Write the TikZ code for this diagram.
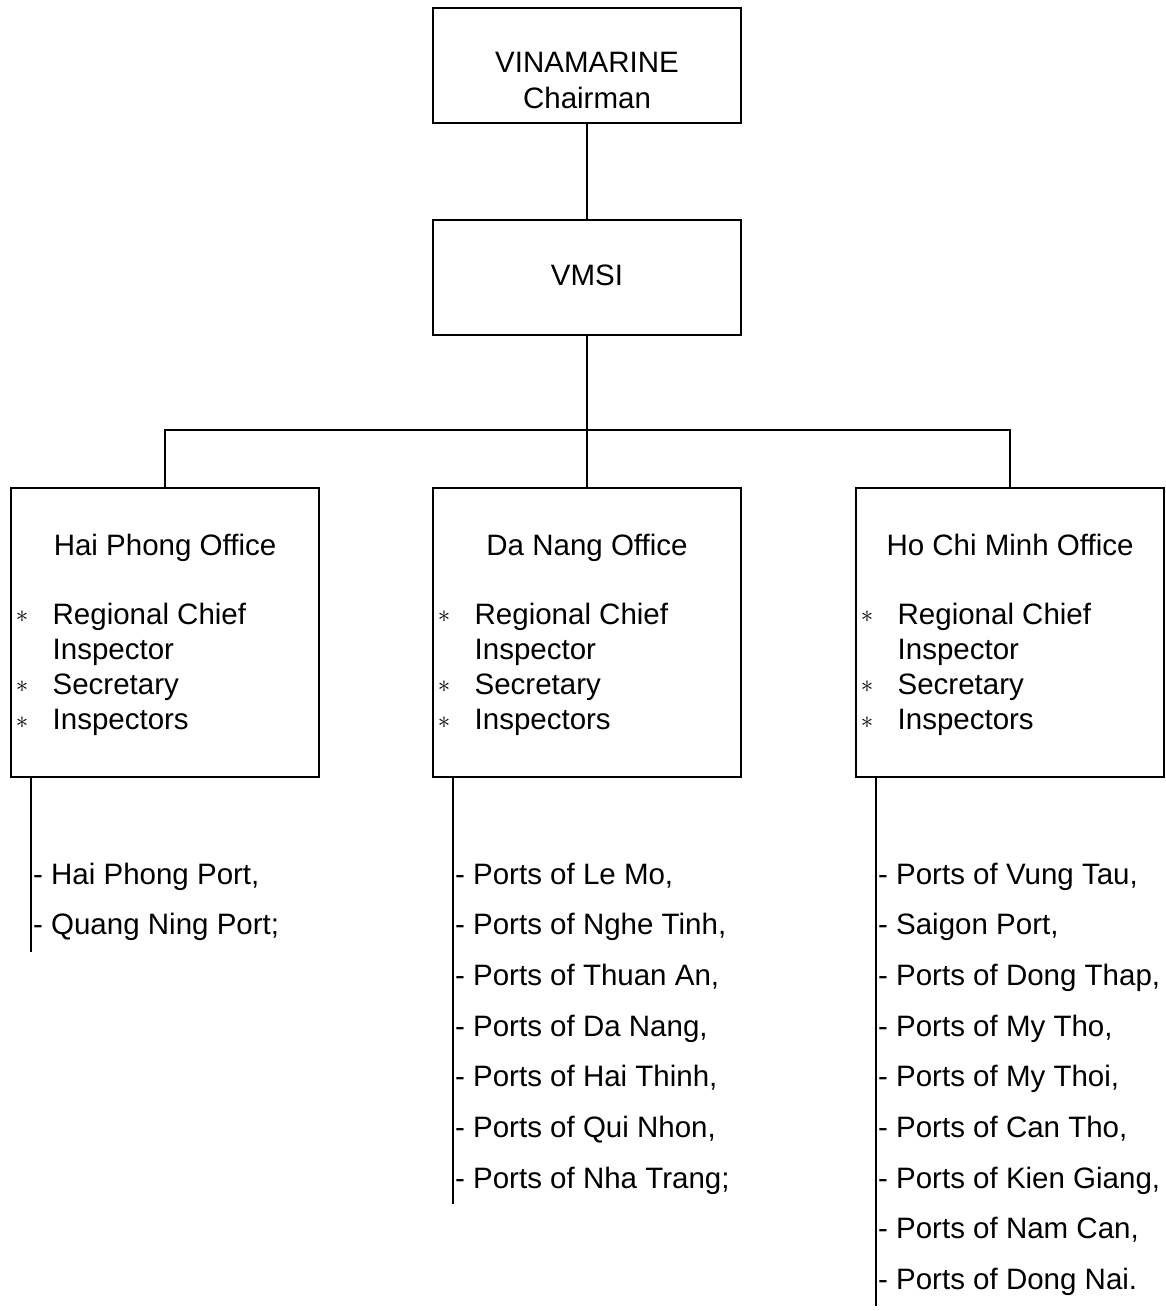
\documentclass[tikz,border=0pt]{standalone}
\usepackage{fontspec}
\setmainfont{Liberation Sans}
\newcommand\fsz{\fontsize{29.5}{35.4}\selectfont}
\begin{document}
\begin{tikzpicture}[x=1pt,y=-1pt,line width=1.3pt,
  box/.style={draw,line width=1.3pt,minimum width=308pt,inner sep=0pt,outer sep=0pt},
  txt/.style={inner sep=0pt,anchor=base west,font=\fsz},
  ctxt/.style={inner sep=0pt,anchor=base,font=\fsz},
  astk/.style={inner sep=0pt,anchor=center,font=\fontsize{25}{25}\selectfont}]
\useasboundingbox (0,0) rectangle (1165,1311);
% top boxes
\node[box,minimum height=115pt] (chair) at (587,65.5) {};
\node[ctxt] (chair-t1) at (587,73) {VINAMARINE};
\node[ctxt] (chair-t2) at (587,109) {Chairman};
\node[box,minimum height=115pt] (vmsi) at (587,277.5) {};
\node[ctxt] (vmsi-t) at (587,285) {VMSI};
% office boxes
\foreach \nm/\cx/\title in {hp/165/Hai Phong Office,dn/587/Da Nang Office,hcm/1010/Ho Chi Minh Office}{
  \node[box,minimum height=289pt] (\nm) at (\cx,632.5) {};
  \node[ctxt] (\nm-title) at (\cx,555) {\title};
  \node[txt] (\nm-r1) at (\cx-113,624) {Regional Chief};
  \node[txt] (\nm-r2) at (\cx-113,659.3) {Inspector};
  \node[txt] (\nm-r3) at (\cx-113,694.6) {Secretary};
  \node[txt] (\nm-r4) at (\cx-113,729.9) {Inspectors};
  \node[astk] (\nm-a1) at (\cx-143,616.5) {$\ast$};
  \node[astk] (\nm-a3) at (\cx-143,687) {$\ast$};
  \node[astk] (\nm-a4) at (\cx-143,722.3) {$\ast$};
}
% connectors
\coordinate (junc) at (587,430);
\draw (chair.south) -- (vmsi.north);
\draw (vmsi.south) -- (junc);
\draw (hp.north) |- (junc) -| (hcm.north);
\draw (junc) -- (dn.north);
% list lines
\coordinate (hp-end) at (31,952);
\coordinate (dn-end) at (453,1204);
\coordinate (hcm-end) at (876,1306);
\draw (hp.south -| hp-end) -- (hp-end);
\draw (dn.south -| dn-end) -- (dn-end);
\draw (hcm.south -| hcm-end) -- (hcm-end);
% lists
\foreach \t [count=\i from 0] in {{- Hai Phong Port,},{- Quang Ning Port;}}
  \node[txt] (hp-l\i) at (32.5,884+50.7*\i) {\t};
\foreach \t [count=\i from 0] in {{- Ports of Le Mo,},{- Ports of Nghe Tinh,},{- Ports of Thuan An,},{- Ports of Da Nang,},{- Ports of Hai Thinh,},{- Ports of Qui Nhon,},{- Ports of Nha Trang;}}
  \node[txt] (dn-l\i) at (454.5,884+50.7*\i) {\t};
\foreach \t [count=\i from 0] in {{- Ports of Vung Tau,},{- Saigon Port,},{- Ports of Dong Thap,},{- Ports of My Tho,},{- Ports of My Thoi,},{- Ports of Can Tho,},{- Ports of Kien Giang,},{- Ports of Nam Can,},{- Ports of Dong Nai.}}
  \node[txt] (hcm-l\i) at (877.5,884+50.7*\i) {\t};
\end{tikzpicture}
\end{document}
